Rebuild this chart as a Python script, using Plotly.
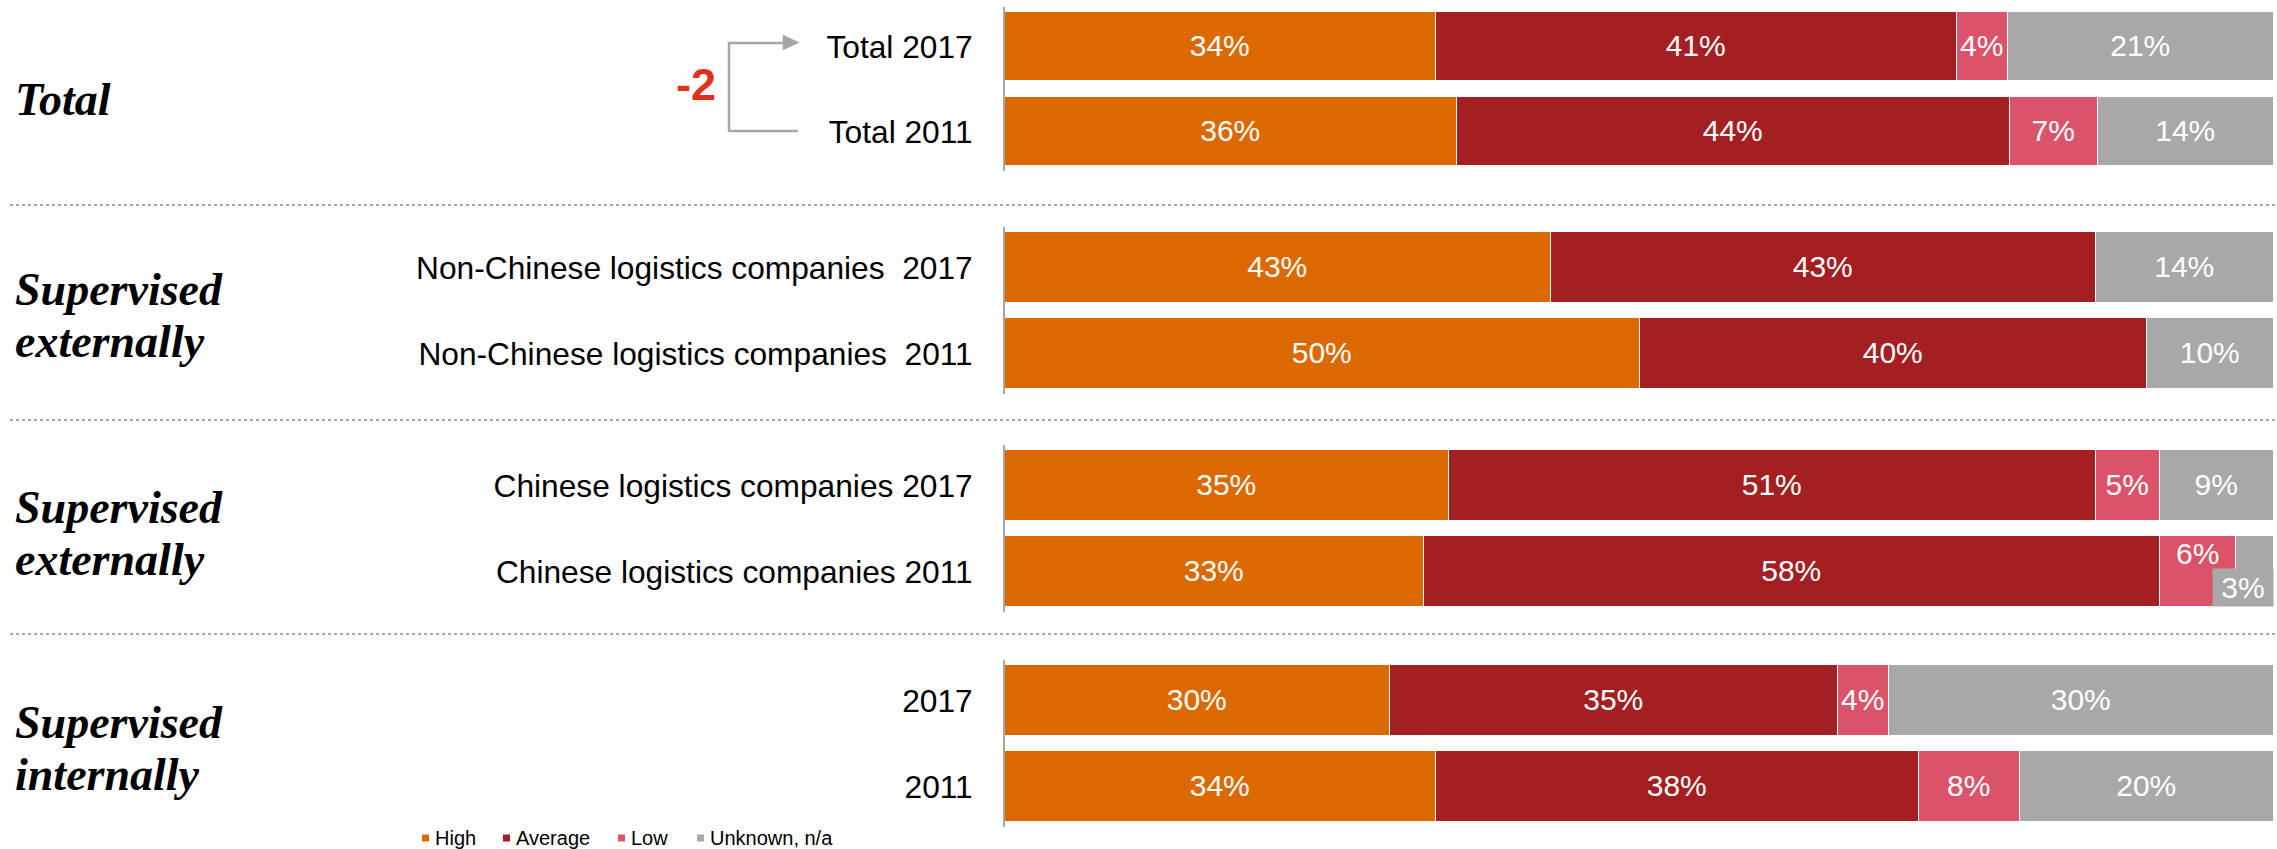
import plotly.graph_objects as go

# ---- data -------------------------------------------------------------
group_titles = [["Total"], ["Supervised", "externally"], ["Supervised", "externally"], ["Supervised", "internally"]]

row_labels = [
    "Total 2017", "Total 2011",
    "Non-Chinese logistics companies\u00a0 2017", "Non-Chinese logistics companies\u00a0 2011",
    "Chinese logistics companies 2017", "Chinese logistics companies 2011",
    "2017", "2011",
]

series_names = ["High", "Average", "Low", "Unknown, n/a"]
high = [34, 36, 43, 50, 35, 33, 30, 34]
average = [41, 44, 43, 40, 51, 58, 35, 38]
low = [4, 7, 0, 0, 5, 6, 4, 8]
unknown = [21, 14, 14, 10, 9, 3, 30, 20]

colors = ["#DC6900", "#A31F22", "#DB536A", "#A8A8A8"]

# ---- page geometry (pixels) -------------------------------------------
W, H = 2277, 849
X0, X1 = 1005, 2274                       # bar area left / right
ROW_CENTERS = [(46.5, 131.5), (267.5, 353.5), (485.5, 571.5), (700.5, 786.5)]
PAD = 0.47                                # category padding around the two rows
BAR_W = 0.83
SEPARATORS = [205, 420, 634]
GREY = "#A6A6A6"
SANS = "Liberation Sans, Arial, sans-serif"
SERIF = "Liberation Serif, Times New Roman, serif"


def px(x):
    return x / W


def py(y):
    return 1 - y / H


series_values = [high, average, low, unknown]
# row whose small segments carry hand-placed labels instead of inside text
callout_row = 5

fig = go.Figure()

for g in range(4):
    suffix = "" if g == 0 else str(g + 1)
    rows = [2 * g, 2 * g + 1]
    for s, (name, vals, col) in enumerate(zip(series_names, series_values, colors)):
        texts = []
        for r in rows:
            v = vals[r]
            if v == 0 or (r == callout_row and s >= 2):
                texts.append("")
            else:
                texts.append(f"{v}%")
        fig.add_bar(
            y=[row_labels[r] for r in rows],
            x=[vals[r] for r in rows],
            orientation="h",
            name=name,
            marker=dict(color=col, line=dict(color="white", width=1.5)),
            width=BAR_W,
            text=texts,
            textposition="inside",
            insidetextanchor="middle",
            textfont=dict(color="white", size=30, family=SANS),
            xaxis="x" + suffix,
            yaxis="y" + suffix,
            showlegend=False,
            hoverinfo="skip",
        )

    c1, c2 = ROW_CENTERS[g]
    pitch = c2 - c1
    top_px = c1 - PAD * pitch
    bot_px = c2 + PAD * pitch
    fig.update_layout(**{
        "xaxis" + suffix: dict(
            domain=[px(X0), px(X1)], range=[0, 100], visible=False,
            anchor="y" + suffix, fixedrange=True,
        ),
        "yaxis" + suffix: dict(
            domain=[py(bot_px), py(top_px)],
            type="category",
            categoryorder="array",
            categoryarray=[row_labels[rows[1]], row_labels[rows[0]]],
            range=[-PAD, 1 + PAD],
            showline=True, linecolor=GREY, linewidth=2,
            showgrid=False, zeroline=False, ticks="",
            ticklabelstandoff=24,
            tickfont=dict(size=31.7, color="#000", family=SANS),
            anchor="x" + suffix, fixedrange=True,
        ),
    })

annotations = []
shapes = []

# group titles on the far left
title_line_offsets = {1: [11], 2: [-21, 31]}
for g, lines in enumerate(group_titles):
    c1, c2 = ROW_CENTERS[g]
    mid = (c1 + c2) / 2
    offs = title_line_offsets[len(lines)]
    for line, off in zip(lines, offs):
        annotations.append(dict(
            text=f"<b><i>{line}</i></b>", xref="paper", yref="paper",
            x=px(13), y=py(mid + off), xanchor="left", yanchor="middle",
            showarrow=False, font=dict(family=SERIF, size=46, color="#000"),
        ))

# dotted separators between groups
for yy in SEPARATORS:
    shapes.append(dict(
        type="line", xref="paper", yref="paper",
        x0=px(10), x1=1, y0=py(yy), y1=py(yy),
        line=dict(color=GREY, width=2, dash="dot"),
    ))

# change in "High" between the two total rows, with bracket arrow
delta = high[0] - high[1]
shapes.append(dict(
    type="path", xref="paper", yref="paper",
    path=(f"M {px(798)},{py(131)} L {px(729)},{py(131)} "
          f"L {px(729)},{py(43)} L {px(785)},{py(43)}"),
    line=dict(color=GREY, width=2.5),
))
shapes.append(dict(
    type="path", xref="paper", yref="paper",
    path=f"M {px(783)},{py(35)} L {px(799)},{py(42.5)} L {px(783)},{py(50)} Z",
    fillcolor=GREY, line=dict(color=GREY, width=0.5),
))
annotations.append(dict(
    text=f"<b>{delta}</b>", xref="paper", yref="paper",
    x=px(696), y=py(84), xanchor="center", yanchor="middle", showarrow=False,
    font=dict(family=SANS, size=45, color="#E0301E"),
))

# hand-placed labels for the narrow segments of the Chinese 2011 row
r = callout_row
tot = high[r] + average[r] + low[r] + unknown[r]
low_mid = (high[r] + average[r] + low[r] / 2) / tot * 100
annotations.append(dict(
    text=f"{low[r]}%", xref="x3", yref="y3", x=low_mid, y=0, yshift=18,
    xanchor="center", yanchor="middle", showarrow=False,
    font=dict(family=SANS, size=30, color="white"),
))
annotations.append(dict(
    text=f"{unknown[r]}%", xref="x3", yref="y3", x=100, y=-BAR_W / 2,
    xanchor="right", yanchor="bottom", showarrow=False,
    bgcolor=colors[3], width=56, height=33, borderpad=2,
    font=dict(family=SANS, size=30, color="white"),
))

# legend along the bottom
legend_x = [422, 503, 618, 697]
for name, col, lx in zip(series_names, colors, legend_x):
    shapes.append(dict(
        type="rect", xref="paper", yref="paper",
        x0=px(lx), x1=px(lx + 7), y0=py(841.5), y1=py(834.5),
        fillcolor=col, line=dict(width=0),
    ))
    annotations.append(dict(
        text=name, xref="paper", yref="paper", x=px(lx + 11), y=py(838),
        xanchor="left", yanchor="middle", showarrow=False,
        font=dict(family=SANS, size=20, color="#000"),
    ))

fig.update_layout(
    width=W, height=H,
    margin=dict(l=0, r=0, t=0, b=0),
    barmode="stack", barnorm="percent",
    bargap=0,
    paper_bgcolor="white", plot_bgcolor="white",
    uniformtext=dict(minsize=30, mode="show"),
    annotations=annotations, shapes=shapes,
    showlegend=False,
)

fig.write_html("out.html")
